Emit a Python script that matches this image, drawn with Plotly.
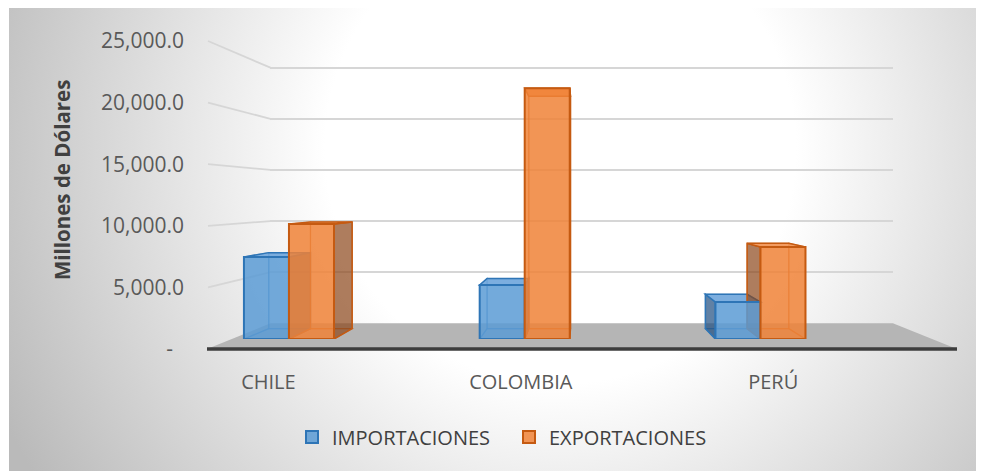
import base64
import plotly.graph_objects as go

# ---------------- data ----------------
categories = ["CHILE", "COLOMBIA", "PERÚ"]
importaciones = [7130, 4700, 3220]
exportaciones = [10000, 21800, 8000]
series_names = ["IMPORTACIONES", "EXPORTACIONES"]
y_tick_values = [0, 5000, 10000, 15000, 20000, 25000]
y_tick_labels = ["-\u00a0\u00a0"] + [f"{v:,.1f}" for v in y_tick_values[1:]]
y_title = "Millones de Dólares"

# ---------------- geometry / style (screen px of the page) ----------------
OX, OY = 8, 8                      # page body margin
W, H = 976, 463                    # figure size
VMAX = 25000
VTOP = VMAX * 1.02
VPX, VPY = 580.0, 198.0            # vanishing point
FRONT_X0, FRONT_X1 = 207.0, 957.0  # floor front edge at depth s=1
FRONT_Y0, FRONT_YMAX = 349.0, 41.0 # value 0 / VMAX at depth s=1
CAT_X0, CAT_STEP = 268.4, 252.4    # category centres at depth s=1
S_WALL = 0.83
S_BAR_FRONT = 0.934
S_BAR_BACK = 0.865
BARGAP = 0.618
FONT = "Open Sans"
TXT = "#595959"

BLUE_FILL = "rgba(91,155,213,0.85)"
BLUE_EDGE = "#2e75b6"
BLUE_SIDE = "rgba(35,80,130,0.72)"
BLUE_TOP = "rgba(110,165,220,0.9)"
ORANGE_FILL = "rgba(240,130,55,0.85)"
ORANGE_EDGE = "#c55a11"
ORANGE_SIDE = "rgba(140,70,25,0.70)"
ORANGE_TOP = "rgba(242,145,80,0.9)"
FAINT_BLUE = "rgba(46,117,182,0.55)"
FAINT_ORANGE = "rgba(197,90,17,0.55)"

n = len(categories)


def fx(px):
    return (px - OX) / W


def fy(py):
    return 1 - (py - OY) / H


def yfront(v):
    return FRONT_Y0 - (FRONT_Y0 - FRONT_YMAX) * v / VMAX


def proj(px, py, s):
    return VPX + (px - VPX) * s, VPY + (py - VPY) * s


def plane(s):
    xl = CAT_X0 - 0.5 * CAT_STEP
    xr = CAT_X0 + (n - 0.5) * CAT_STEP
    xl_s, y0_s = proj(xl, yfront(0), s)
    xr_s, yt_s = proj(xr, yfront(VTOP), s)
    return (xl_s, xr_s), (y0_s, yt_s)


(fx0, fx1), (fy0, fyt) = plane(1.0)
(bx0, bx1), (by0, byt) = plane(S_BAR_FRONT)
wall_l = proj(FRONT_X0, FRONT_Y0, S_WALL)
wall_r = proj(FRONT_X1, FRONT_Y0, S_WALL)
_, (wy0, wyt) = plane(S_WALL)

fig = go.Figure()

colors = [(BLUE_FILL, BLUE_EDGE), (ORANGE_FILL, ORANGE_EDGE)]
for name, vals, (fc, ec) in zip(series_names, [importaciones, exportaciones], colors):
    fig.add_trace(go.Bar(
        x=list(range(n)), y=vals, name=name, xaxis="x2", yaxis="y2",
        marker=dict(color=fc, line=dict(color=ec, width=2)),
        hoverinfo="skip",
    ))

fig.add_trace(go.Scatter(x=[None], y=[None], xaxis="x", yaxis="y", showlegend=False, hoverinfo="skip"))
fig.add_trace(go.Scatter(x=[None], y=[None], xaxis="x3", yaxis="y3", showlegend=False, hoverinfo="skip"))

shapes = []

# floor
corners = [proj(FRONT_X0, FRONT_Y0, 1), proj(FRONT_X1, FRONT_Y0, 1), wall_r, wall_l]
path = "M " + " L ".join(f"{fx(c[0]):.5f},{fy(c[1]):.5f}" for c in corners) + " Z"
shapes.append(dict(type="path", path=path, xref="paper", yref="paper", layer="below",
                   fillcolor="#b5b5b5", line=dict(width=0)))
shapes.append(dict(type="line", x0=fx(corners[0][0]), y0=fy(corners[0][1]),
                   x1=fx(corners[1][0]), y1=fy(corners[1][1]), xref="paper", yref="paper",
                   layer="below", line=dict(color="#3d3d3d", width=3.5)))

# side wall gridlines
for v in y_tick_values[1:]:
    yf = yfront(v)
    bxp, byp = proj(FRONT_X0, yf, S_WALL)
    shapes.append(dict(type="line", x0=fx(FRONT_X0 + 1), y0=fy(yf), x1=fx(bxp), y1=fy(byp),
                       xref="paper", yref="paper", layer="below",
                       line=dict(color="#d6d6d6", width=1.8)))

# 3D faces of bars, in bar-plane data units
vpx_d = -0.5 + (VPX - bx0) / (bx1 - bx0) * n
vpy_d = (by0 - VPY) / (by0 - byt) * VTOP
r = S_BAR_BACK / S_BAR_FRONT


def back(p):
    return (vpx_d + (p[0] - vpx_d) * r, vpy_d + (p[1] - vpy_d) * r)


def poly(pts, fill, line, width=1.5):
    d = "M " + " L ".join(f"{x:.5f},{y:.3f}" for x, y in pts) + " Z"
    return dict(type="path", path=d, xref="x2", yref="y2", layer="below",
                fillcolor=fill, line=dict(color=line, width=width))


w = (1 - BARGAP) / 2
styles = [(BLUE_SIDE, BLUE_TOP, BLUE_EDGE, FAINT_BLUE), (ORANGE_SIDE, ORANGE_TOP, ORANGE_EDGE, FAINT_ORANGE)]
for i in range(n):
    for k, vals in enumerate([importaciones, exportaciones]):
        side, top, edge, faint = styles[k]
        xa = i - w + k * w
        xb = xa + w
        v = vals[i]
        f = [(xa, 0), (xb, 0), (xb, v), (xa, v)]
        bk = [back(p) for p in f]
        shapes.append(poly(bk, "rgba(0,0,0,0)", faint, 1.2))
        shapes.append(poly([f[0], f[1], bk[1], bk[0]], "rgba(0,0,0,0)", faint, 1.2))
        left = [f[0], f[3], bk[3], bk[0]]
        right = [f[1], f[2], bk[2], bk[1]]
        if (xa + xb) / 2 < vpx_d:
            hidden, visible = left, right
        else:
            hidden, visible = right, left
        shapes.append(poly(hidden, "rgba(0,0,0,0)", faint, 1.2))
        shapes.append(poly(visible, side, edge, 1.5))
        shapes.append(poly([f[3], f[2], bk[2], bk[3]], top, edge, 1.5))

# background gradient image (covers the whole figure)
svg = (f"<svg xmlns='http://www.w3.org/2000/svg' width='{W}' height='{H}'>"
       f"<defs><radialGradient id='g' gradientUnits='userSpaceOnUse' cx='{VPX - OX - 20}' cy='140' r='620'>"
       "<stop offset='0' stop-color='#ffffff'/><stop offset='0.38' stop-color='#ffffff'/>"
       "<stop offset='1' stop-color='#bababa'/></radialGradient></defs>"
       f"<rect width='{W}' height='{H}' fill='url(#g)'/></svg>")
src = "data:image/svg+xml;base64," + base64.b64encode(svg.encode()).decode()

fig.update_layout(
    template="none",
    width=W, height=H,
    margin=dict(l=0, r=0, t=0, b=0, pad=0),
    paper_bgcolor="white", plot_bgcolor="rgba(0,0,0,0)",
    barmode="group", bargap=BARGAP, bargroupgap=0,
    font=dict(family=FONT, color=TXT, size=20),
    shapes=shapes,
    images=[dict(source=src, xref="paper", yref="paper", x=fx(9), y=1,
                 sizex=1 - fx(9), sizey=1, sizing="stretch", xanchor="left", yanchor="top",
                 layer="below")],
    xaxis=dict(domain=[fx(wall_l[0]), fx(wall_r[0])], range=[0, 1], visible=False, anchor="y",
               automargin=False),
    yaxis=dict(domain=[fy(wy0), fy(wyt)], range=[0, VTOP], anchor="x", automargin=False,
               tickvals=y_tick_values[1:], showticklabels=False, showgrid=True,
               gridcolor="#d6d6d6", gridwidth=1.8, zeroline=False, showline=False, ticks=""),
    xaxis2=dict(domain=[fx(bx0), fx(bx1)], range=[-0.5, n - 0.5], visible=False, anchor="y2",
                automargin=False),
    yaxis2=dict(domain=[fy(by0), fy(byt)], range=[0, VTOP], visible=False, anchor="x2",
                automargin=False),
    xaxis3=dict(domain=[fx(fx0), fx(fx1)], range=[-0.5, n - 0.5], anchor="y3", automargin=False,
                tickvals=list(range(n)), ticktext=categories, showgrid=False, zeroline=False,
                showline=False, ticks="outside", ticklen=15, tickcolor="rgba(0,0,0,0)",
                tickfont=dict(size=20, color=TXT)),
    yaxis3=dict(domain=[fy(fy0), fy(fyt)], range=[0, VTOP], anchor="free", automargin=False,
                position=fx(184), tickvals=y_tick_values, ticktext=y_tick_labels,
                showgrid=False, zeroline=False, showline=False, ticks="",
                tickfont=dict(size=21, color=TXT)),
    legend=dict(orientation="h", x=fx(292), xanchor="left", y=fy(437), yanchor="middle",
                font=dict(size=20, color="#404040"), bgcolor="rgba(0,0,0,0)",
                traceorder="normal", itemwidth=30, entrywidth=172),
    annotations=[dict(text=f"<b>{y_title}</b>", x=fx(62), y=fy(180), xref="paper", yref="paper",
                      textangle=-90, showarrow=False, font=dict(size=20.5, color="#404040"),
                      xanchor="center", yanchor="middle")],
)

fig.write_html("out.html")
